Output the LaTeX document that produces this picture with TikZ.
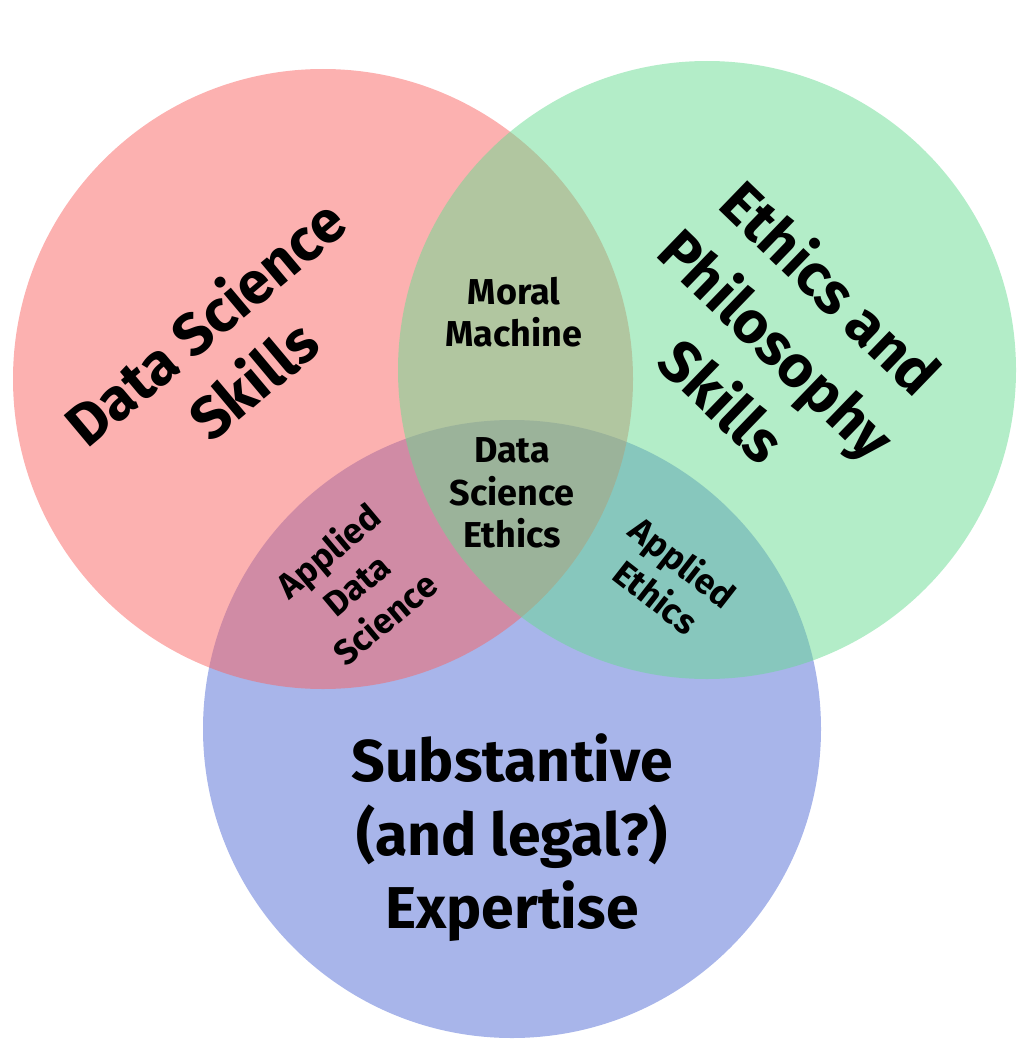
\documentclass[tikz,border=0pt]{standalone}
\usepackage{fontspec}
\setmainfont{Fira Sans}
\definecolor{cred}{RGB}{249,99,97}
\definecolor{cgreen}{RGB}{103,219,145}
\definecolor{cblue}{RGB}{81,107,213}
\tikzset{
  set/.style={circle, draw=none, inner sep=0pt, minimum size=#1, fill opacity=0.5},
  biglabel/.style={font=\bfseries\fontsize{59}{#1}\selectfont, align=center, inner sep=0pt, text=black},
  midlabel/.style={font=\bfseries\fontsize{36}{42.5}\selectfont, align=center, inner sep=0pt, text=black},
  smalllabel/.style={font=\bfseries\fontsize{35}{44}\selectfont, align=center, inner sep=0pt, text=black},
}
\begin{document}
\begin{tikzpicture}[x=1pt,y=-1pt]
\useasboundingbox (0,0) rectangle (1031,1054);
\node[set=618pt, fill=cblue] (blue) at (512,729) {};
\node[set=620pt, fill=cred] (red) at (323,379) {};
\node[set=618pt, fill=cgreen] (green) at (707,370) {};

\node[biglabel=75, rotate=40] (dss) at (228,350) {Data Science\\Skills};
\node[biglabel=78, rotate=-44] (eps) at (778,343) {Ethics and\\Philosophy\\Skills};
\node[biglabel=73.5] (sub) at (512,838) {Substantive\\(and legal?)\\Expertise};

\node[midlabel] (mm) at (514,312) {Moral\\Machine};
\node[midlabel] (dse) at (512,493) {Data\\Science\\Ethics};
\node[smalllabel, rotate=40] (ads) at (356,584) {Applied\\Data\\Science};
\node[smalllabel, rotate=-38] (ae) at (670,579) {Applied\\Ethics};
\end{tikzpicture}
\end{document}
